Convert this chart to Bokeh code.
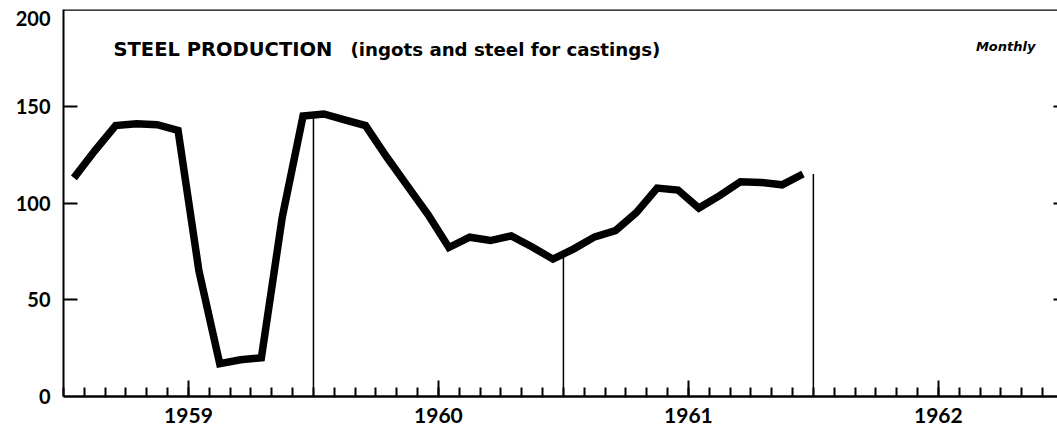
from bokeh.plotting import figure
from bokeh.models import FixedTicker, Range1d, Label, Span, LinearAxis
from bokeh.embed import file_html
from bokeh.resources import INLINE
import numpy as np

# Monthly steel production, Jan 1959 .. Dec 1961 (index, thousands)
months = list(range(36))
production = [113, 127, 140, 141, 140.5, 137.5,
              65, 17, 19, 20, 92.5, 145,
              146, 143, 140, 124, 109, 94,
              77, 82.3, 80.6, 83, 77.3, 71,
              76.3, 82.5, 85.7, 95, 107.7, 106.7,
              97.4, 103.8, 111, 110.6, 109.4, 115]
years = ["1959", "1960", "1961", "1962"]
y_ticks = [0, 50, 100, 150]
y_top = 200
y_top_label_pos = 195.4   # the "200" label sits just under the frame top

NUM_FONT = "Lato"
TITLE_FONT = "DejaVu Sans"

x = [m + 0.5 for m in months]

p = figure(width=1057, height=427, output_backend="svg", toolbar_location=None,
           x_range=Range1d(0, 47.72), y_range=Range1d(0, y_top),
           min_border_left=63, min_border_right=0, min_border_top=9,
           min_border_bottom=31)
p.background_fill_color = "white"
p.border_fill_color = "white"
p.outline_line_color = None
p.grid.visible = False

# x axis: monthly minor ticks, taller ticks at mid-year carrying the year labels
xa = p.xaxis[0]
xa.ticker = FixedTicker(ticks=[12 * i + 6 for i in range(len(years))],
                        minor_ticks=list(range(0, 49)))
xa.major_label_overrides = {12 * i + 6: yr for i, yr in enumerate(years)}
xa.major_label_text_font = NUM_FONT
xa.major_label_text_font_style = "bold"
xa.major_label_text_font_size = "21px"
xa.major_label_text_color = "black"
xa.major_label_standoff = 11
xa.axis_line_width = 2.5
xa.axis_line_color = "black"
xa.major_tick_in = 16
xa.major_tick_out = 0
xa.minor_tick_in = 9
xa.minor_tick_out = 0
xa.major_tick_line_width = 2
xa.minor_tick_line_width = 2
xa.major_tick_line_color = "black"
xa.minor_tick_line_color = "black"

# left axis: line and inward ticks only
ya = p.yaxis[0]
ya.ticker = FixedTicker(ticks=y_ticks[1:])
ya.axis_line_width = 2
ya.axis_line_color = "black"
ya.major_tick_in = 14
ya.major_tick_out = 0
ya.minor_tick_line_color = None
ya.major_tick_line_width = 2
ya.major_label_text_font_size = "0px"
ya.major_label_standoff = 0

# left labels axis (no line, no ticks)
la = LinearAxis(ticker=FixedTicker(ticks=y_ticks + [y_top_label_pos]))
la.major_label_overrides = {y_top_label_pos: str(y_top)}
la.axis_line_color = None
la.major_tick_line_color = None
la.minor_tick_line_color = None
la.major_tick_in = 0
la.major_tick_out = 0
la.major_label_standoff = 13
la.major_label_text_font = NUM_FONT
la.major_label_text_font_style = "bold"
la.major_label_text_font_size = "20px"
la.major_label_text_color = "black"
p.add_layout(la, "left")

# right side short ticks
ra = LinearAxis(ticker=FixedTicker(ticks=y_ticks[1:]))
ra.axis_line_color = None
ra.major_tick_in = 4
ra.major_tick_out = 0
ra.major_tick_line_width = 2
ra.minor_tick_line_color = None
ra.major_label_text_font_size = "0px"
ra.major_label_standoff = 0
p.add_layout(ra, "right")

# top border
p.add_layout(Span(location=y_top, dimension="width", line_color="black", line_width=2.5))

# vertical year-boundary lines up to the curve
bounds = [12, 24, 36]
heights = [float(np.interp(b, x, production)) for b in bounds]
p.segment(x0=bounds, y0=[0] * len(bounds), x1=bounds, y1=heights,
          line_color="black", line_width=1.5)

# main series
p.line(x, production, line_color="black", line_width=7.5, line_join="miter")

# titles
p.add_layout(Label(x=2.4, y=179.5, text="STEEL PRODUCTION",
                   text_align="left", text_baseline="middle",
                   text_font=TITLE_FONT, text_font_style="bold", text_font_size="19.5px",
                   text_color="black"))
p.add_layout(Label(x=13.78, y=179.5, text="(ingots and steel for castings)",
                   text_align="left", text_baseline="middle",
                   text_font=TITLE_FONT, text_font_style="bold", text_font_size="18.2px",
                   text_color="black"))
p.add_layout(Label(x=46.66, y=181, text="Monthly",
                   text_align="right", text_baseline="middle",
                   text_font=TITLE_FONT, text_font_style="bold italic", text_font_size="13px",
                   text_color="black"))

open("out.html", "w").write(file_html(p, INLINE))
